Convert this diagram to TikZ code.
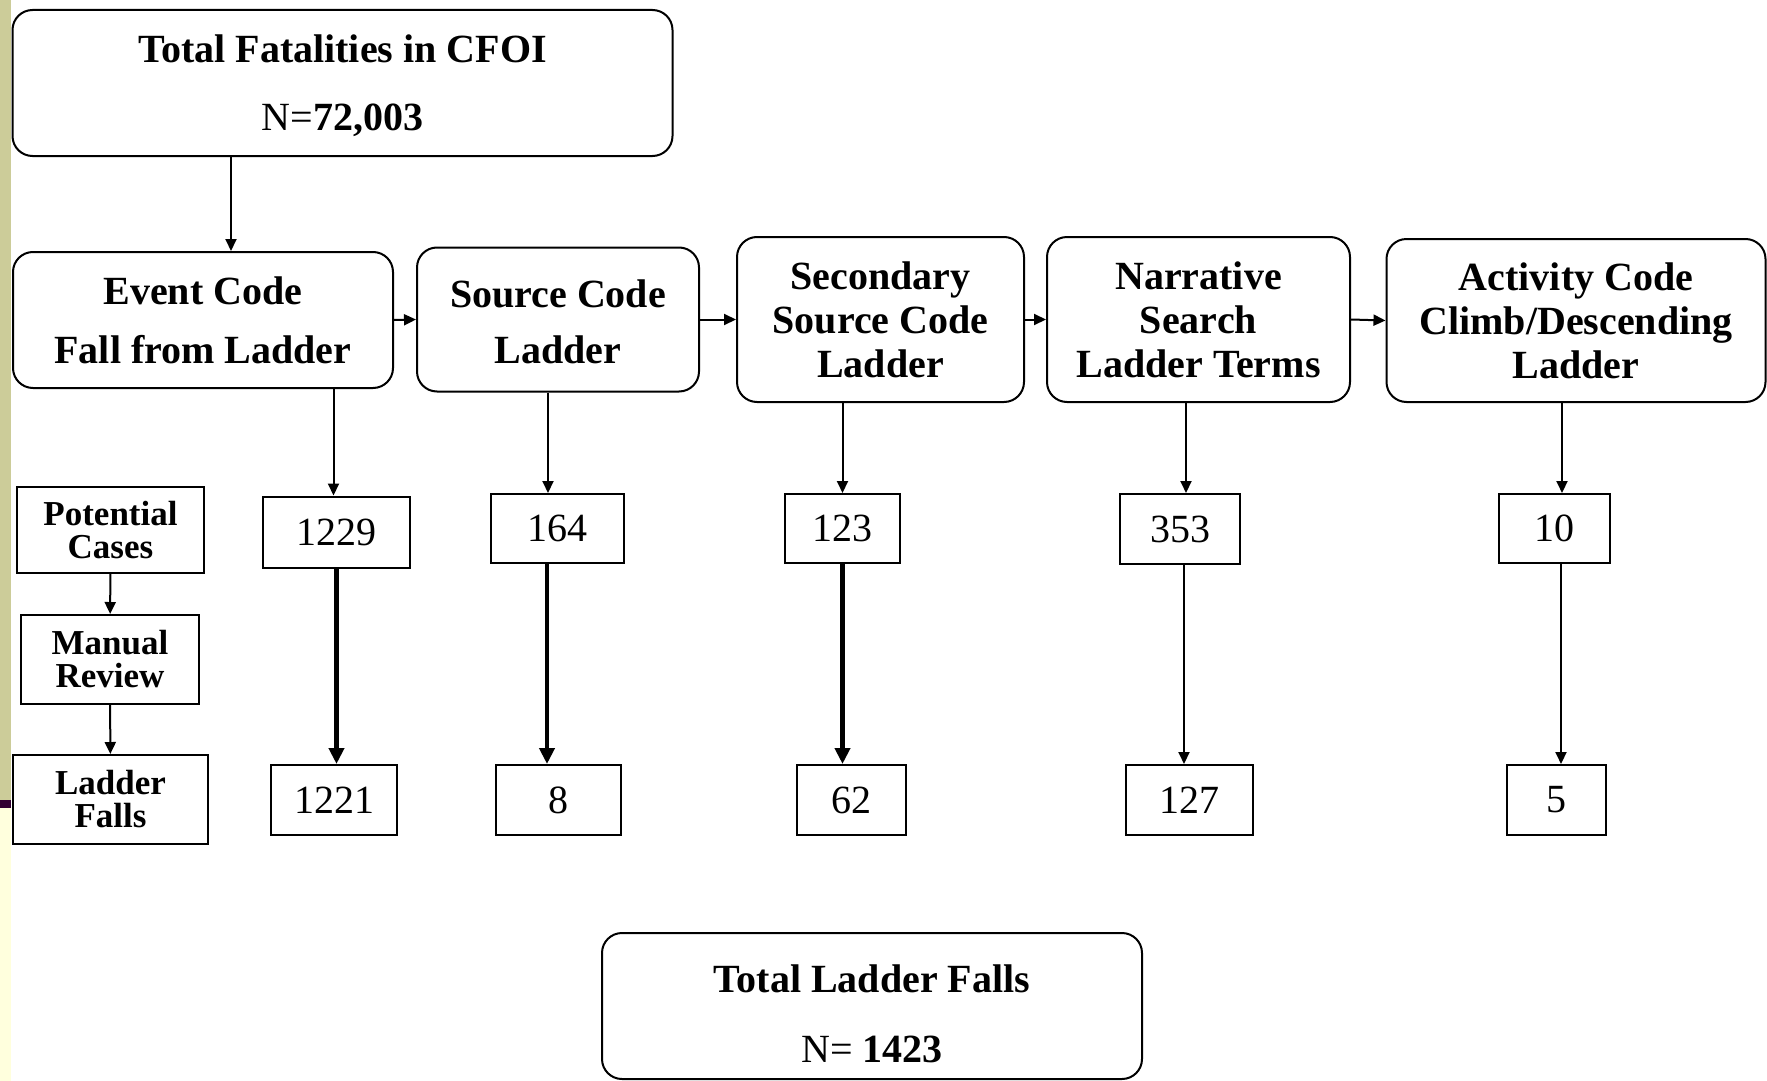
\documentclass[tikz,border=0pt]{standalone}
\usepackage{fontspec}
\setmainfont{Liberation Serif}
\usepackage{tikz}
\usetikzlibrary{positioning,arrows.meta}
\usepackage{xcolor}
\definecolor{barolive}{HTML}{CCCC99}
\definecolor{barplum}{HTML}{330033}
\definecolor{barcream}{HTML}{FFFFDD}

\tikzset{
  stage/.style={draw, line width=2pt, rounded corners=20pt, align=center, inner sep=0pt,
    font=\bfseries\fontsize{40}{44}\selectfont},
  count/.style={draw, line width=2pt, inner sep=0pt, font=\fontsize{40}{44}\selectfont},
  legendbox/.style={draw, line width=2pt, inner sep=0pt, align=center,
    font=\bfseries\fontsize{35}{33}\selectfont},
  flow/.style={-{Triangle[length=12pt,width=11pt]}, line width=2pt},
  bigflow/.style={-{Triangle[length=16pt,width=15pt]}, line width=4.5pt},
}

\begin{document}
\begin{tikzpicture}[x=1pt, y=-1pt]
  \useasboundingbox (0,0) rectangle (1767,1081);
  \fill[white] (0,0) rectangle (1767,1081);
  \fill[barolive] (0,0) rectangle (11,800);
  \fill[barplum]  (0,800) rectangle (11,808);
  \fill[barcream] (0,808) rectangle (11,1081);

  % screening stages
  \node[stage, minimum width=660pt, minimum height=146pt] (total) at (342.5,83)
    {\rule{0pt}{33pt}Total Fatalities in CFOI\\[24pt]{\mdseries N=}72,003};
  \node[stage, minimum width=380pt, minimum height=136pt] (ev)  at (203,320)
    {Event Code\\[15pt]Fall from Ladder};
  \node[stage, minimum width=282pt, minimum height=144pt] (src) at (558,319.5)
    {\rule{0pt}{32pt}Source Code\\[12pt]Ladder};
  \node[stage, minimum width=287pt, minimum height=165pt] (sec) at (880.5,319.5)
    {Secondary\\Source Code\\Ladder};
  \node[stage, minimum width=303pt, minimum height=165pt] (nar) at (1198.5,319.5)
    {Narrative\\Search\\Ladder Terms};
  \node[stage, minimum width=379pt, minimum height=163pt] (act) at (1576,320.5)
    {Activity Code\\Climb/Descending\\Ladder};
  \node[stage, minimum width=540pt, minimum height=146pt] (falls) at (872,1006)
    {\rule{0pt}{43pt}Total Ladder Falls\\[26pt]{\mdseries N=} 1423};

  % legend
  \node[legendbox, minimum width=187pt, minimum height=86pt] (pot) at (110.5,530) {Potential\\Cases};
  \node[legendbox, minimum width=178pt, minimum height=89pt] (man) at (110,659.5) {Manual\\Review};
  \node[legendbox, minimum width=195pt, minimum height=89pt] (lf)  at (110.5,799.5) {Ladder\\Falls};

  % counts
  \node[count, minimum width=147pt, minimum height=71pt] (n1229) at (336.5,532)  {1229};
  \node[count, minimum width=133pt, minimum height=69pt] (n164)  at (557.5,528.5) {164};
  \node[count, minimum width=115pt, minimum height=69pt] (n123)  at (842.5,528.5) {123};
  \node[count, minimum width=120pt, minimum height=70pt] (n353)  at (1180,529)    {353};
  \node[count, minimum width=111pt, minimum height=69pt] (n10)   at (1554.5,528.5) {10};
  \node[count, minimum width=126pt, minimum height=70pt] (n1221) at (334,800)    {1221};
  \node[count, minimum width=125pt, minimum height=70pt] (n8)    at (558.5,800)  {8};
  \node[count, minimum width=109pt, minimum height=70pt] (n62)   at (851.5,800)  {62};
  \node[count, minimum width=127pt, minimum height=70pt] (n127)  at (1189.5,800) {127};
  \node[count, minimum width=99pt,  minimum height=70pt] (n5)    at (1556.5,800) {5};

  \draw[flow] ([xshift=-111.5pt]total.south) -- ([xshift=28pt]ev.north);
  \draw[flow] (ev.east)  -- (src.west);
  \draw[flow] (src.east) -- (sec.west);
  \draw[flow] (sec.east) -- (nar.west);
  \draw[flow] (nar.east) -- (act.west);

  \draw[flow] ([xshift=-3pt]ev.south -| n1229.north) -- ([xshift=-3pt]n1229.north);
  \draw[flow] ([xshift=-10pt]src.south) -- ([xshift=-9.5pt]n164.north);
  \draw[flow] (sec.south -| n123.north) -- (n123.north);
  \draw[flow] ([xshift=-12.5pt]nar.south) -- ([xshift=6pt]n353.north);
  \draw[flow] ([xshift=-14pt]act.south) -- ([xshift=7.5pt]n10.north);

  \draw[bigflow] (n1229.south) -- (n1221.north -| n1229.south);
  \draw[bigflow] ([xshift=-10.5pt]n164.south) -- ([xshift=-11.5pt]n8.north);
  \draw[bigflow] (n123.south) -- (n62.north -| n123.south);
  \draw[flow] ([xshift=4pt]n353.south) -- ([xshift=-5.5pt]n127.north);
  \draw[flow] ([xshift=6.5pt]n10.south) -- ([xshift=4.5pt]n5.north);

  \draw[flow] (pot) -- (man);
  \draw[flow] (man) -- (lf);
\end{tikzpicture}
\end{document}
